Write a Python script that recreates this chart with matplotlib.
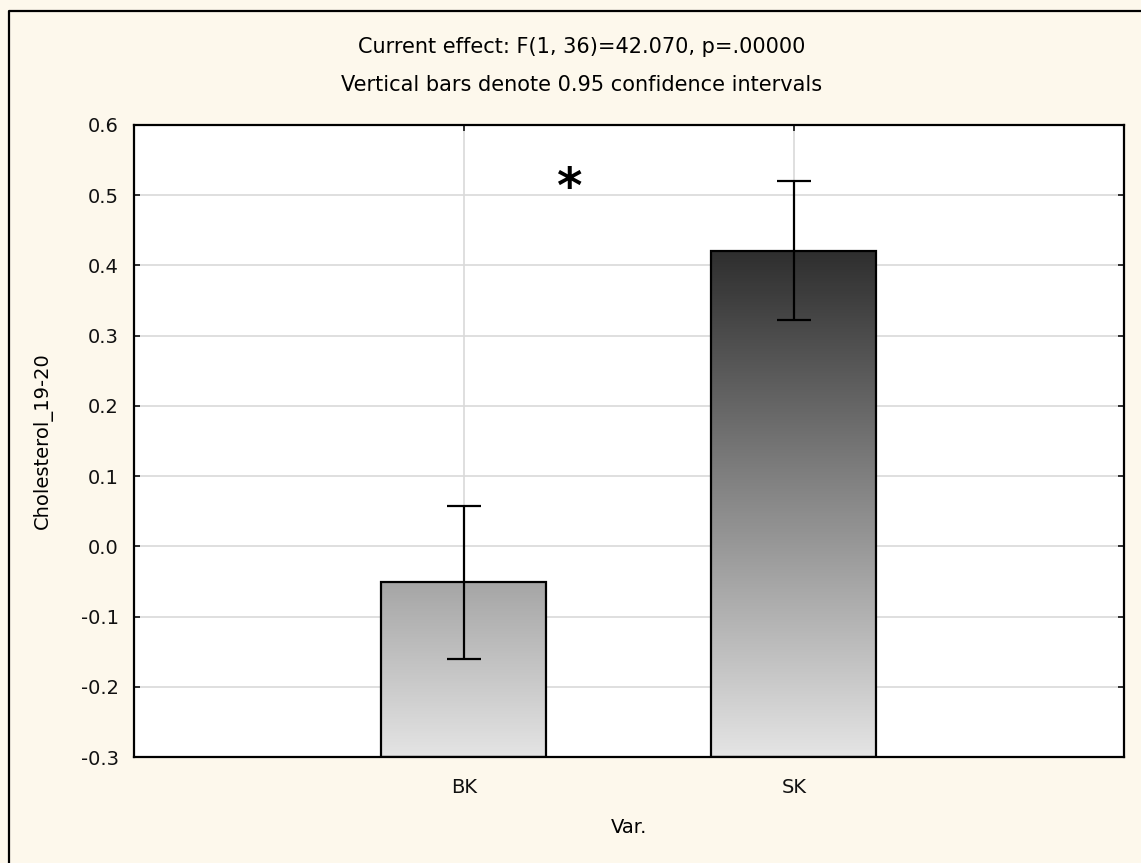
import numpy as np
import matplotlib
matplotlib.use('Agg')
import matplotlib.pyplot as plt
from matplotlib.colors import LinearSegmentedColormap, Normalize
from matplotlib.lines import Line2D

plt.rcParams['font.family'] = ['DejaVu Sans']
plt.rcParams['axes.unicode_minus'] = False

groups = ['BK', 'SK']
means = [-0.051, 0.421]
ci_half = [0.109, 0.099]
yticks = [-0.3, -0.2, -0.1, 0.0, 0.1, 0.2, 0.3, 0.4, 0.5, 0.6]

bg = '#fdf8ec'
fig = plt.figure(figsize=(11.41, 8.63), dpi=100, facecolor=bg)
ax = fig.add_axes([0.1174, 0.1228, 0.8676, 0.7324])
ax.set_facecolor('white')

x = np.arange(len(groups))
ax.set_xlim(-1, 2)
ax.set_ylim(-0.3, 0.6)

# grid behind everything
ax.set_axisbelow(True)
ax.grid(True, color='#d9d9d9', linewidth=1.2)

# gray gradient fill, light at the bottom, dark towards the top
cmap = LinearSegmentedColormap.from_list('grays', ['#e4e4e4', '#2c2c2c'])
norm = Normalize(-0.3, 0.43)
bars = ax.bar(x, [m + 0.3 for m in means], bottom=-0.3, width=0.5,
              facecolor='none', edgecolor='black', linewidth=1.6, zorder=3)
for b, m in zip(bars, means):
    grad = np.linspace(m, -0.3, 256).reshape(-1, 1)
    x0 = b.get_x()
    im = ax.imshow(grad, cmap=cmap, norm=norm, aspect='auto',
                   extent=(x0, x0 + b.get_width(), -0.3, m), zorder=2,
                   interpolation='bilinear')
    im.set_clip_path(b)

ax.errorbar(x, means, yerr=ci_half, fmt='none', ecolor='black',
            elinewidth=1.6, capsize=12, capthick=1.6, zorder=4)

ax.text(0.32, 0.509, '*', fontsize=35, fontweight='bold',
        ha='center', va='center', zorder=5)

ax.set_xticks(x)
ax.set_xticklabels(groups)
ax.set_yticks(yticks)
ax.set_yticklabels(['%.1f' % t for t in yticks])
ax.tick_params(direction='in', length=4, width=1.2, top=True, right=True,
               labelsize=14, colors='#111111')
ax.tick_params(axis='x', pad=15)
ax.tick_params(axis='y', pad=11)
for s in ax.spines.values():
    s.set_linewidth(1.6)

ax.set_xlabel('Var.', fontsize=14, labelpad=15)
ax.set_ylabel('Cholesterol_19-20', fontsize=14, labelpad=20)

fig.text(0.51, 1 - 47 / 863, 'Current effect: F(1, 36)=42.070, p=.00000',
         ha='center', va='center', fontsize=15)
fig.text(0.51, 1 - 85 / 863, 'Vertical bars denote 0.95 confidence intervals',
         ha='center', va='center', fontsize=15)

# frame line on left and top of the figure
fx = 9 / 1141
fy = 1 - 11 / 863
fig.add_artist(Line2D([fx, fx, 1.0], [0.0, fy, fy], color='black',
                      linewidth=1.6, transform=fig.transFigure))

fig.savefig('out.png', dpi=100, facecolor=bg)
